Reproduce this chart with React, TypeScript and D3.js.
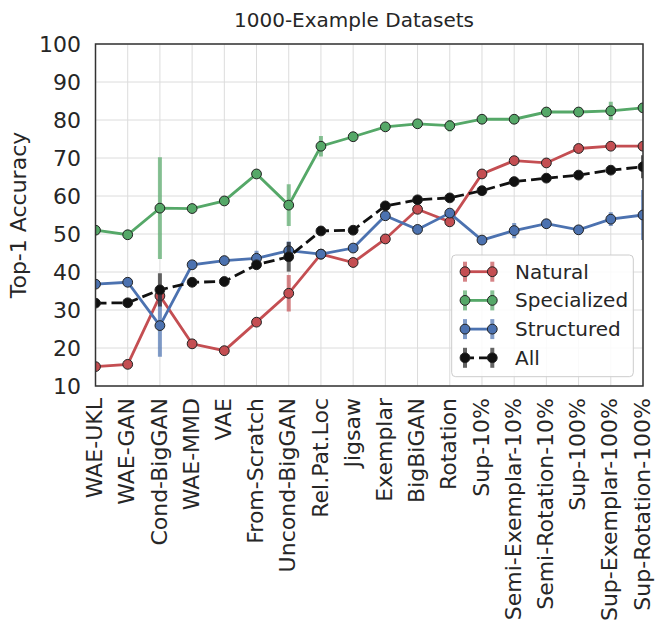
import React from "react";
import * as d3 from "d3";

const width = 664;
const height = 640;
const margin = { top: 44, right: 21, bottom: 254, left: 95.5 };

const categories = [
  "WAE-UKL", "WAE-GAN", "Cond-BigGAN", "WAE-MMD", "VAE", "From-Scratch",
  "Uncond-BigGAN", "Rel.Pat.Loc", "Jigsaw", "Exemplar", "BigBiGAN", "Rotation",
  "Sup-10%", "Semi-Exemplar-10%", "Semi-Rotation-10%", "Sup-100%",
  "Sup-Exemplar-100%", "Sup-Rotation-100%",
];

const natural = [15.1, 15.7, 33.7, 21.1, 19.3, 26.8, 34.4, 44.7, 42.5, 48.7, 56.5, 53.2, 65.8, 69.3, 68.7, 72.5, 73.1, 73.1];
const naturalErr = [0.5, 0.5, 1.0, 0.5, 0.5, 0.5, 4.8, 0.5, 0.5, 0.5, 0.5, 0.5, 0.5, 0.5, 0.5, 0.5, 0.5, 0.5];

const specialized = [51.0, 49.8, 56.8, 56.7, 58.7, 65.8, 57.6, 73.1, 75.6, 78.2, 79.0, 78.5, 80.2, 80.2, 82.1, 82.1, 82.4, 83.2];
const specializedErr = [0.5, 0.5, 13.4, 0.5, 0.5, 0.5, 5.5, 2.7, 1.0, 0.5, 0.5, 1.5, 0.5, 0.5, 0.5, 0.5, 2.4, 0.5];

const structured = [36.8, 37.3, 25.9, 41.9, 43.0, 43.6, 45.6, 44.7, 46.3, 54.8, 51.2, 55.5, 48.4, 50.9, 52.7, 51.1, 53.9, 55.0];
const structuredErr = [0.5, 0.5, 8.2, 0.5, 0.5, 2.0, 2.4, 0.5, 0.5, 0.5, 0.5, 0.5, 0.5, 2.0, 0.5, 1.2, 1.8, 6.6];

const all = [31.8, 31.9, 35.3, 37.3, 37.5, 41.9, 44.0, 50.8, 51.0, 57.4, 59.0, 59.5, 61.4, 63.8, 64.7, 65.5, 66.8, 67.7];
const allErr = [0.5, 0.5, 4.4, 0.5, 0.5, 0.5, 3.9, 0.5, 0.5, 0.5, 0.5, 0.5, 0.5, 0.5, 0.5, 0.5, 0.5, 3.0];

const yTicks = [10, 20, 30, 40, 50, 60, 70, 80, 90, 100];

const series = [
  { name: "Natural", values: natural, err: naturalErr, color: "#C44E52", bar: "#C44E52", dash: "" },
  { name: "Specialized", values: specialized, err: specializedErr, color: "#55A868", bar: "#55A868", dash: "" },
  { name: "Structured", values: structured, err: structuredErr, color: "#4C72B0", bar: "#4C72B0", dash: "" },
  { name: "All", values: all, err: allErr, color: "#111111", bar: "#222222", dash: "11,5" },
];

const font = "DejaVu Sans, sans-serif";
const textColor = "#262626";

export default function App() {
  const innerW = width - margin.left - margin.right;
  const innerH = height - margin.top - margin.bottom;

  const x = d3.scalePoint<string>().domain(categories).range([0, innerW]);
  const y = d3.scaleLinear().domain([10, 100]).range([innerH, 0]);

  const line = d3
    .line<number>()
    .x((_, i) => x(categories[i]) as number)
    .y((d) => y(d));

  // legend placement
  const lg = { x: 451.7 - margin.left, y: 255 - margin.top, w: 181.6, h: 121.7 };
  const rowY = (i: number) => lg.y + 16.7 + i * 28.7;

  return (
    <svg
      width={width}
      height={height}
      style={{ position: "absolute", left: 0, top: 0, background: "#fff" }}
      fontFamily={font}
    >
      <defs>
        <clipPath id="plot-clip">
          <rect x={0} y={0} width={innerW} height={innerH} />
        </clipPath>
      </defs>

      <text x={354} y={26.5} textAnchor="middle" fontSize={20} fill={textColor}>
        1000-Example Datasets
      </text>

      <g transform={`translate(${margin.left},${margin.top})`}>
        {/* grid */}
        {yTicks.map((t) => (
          <line key={"gy" + t} x1={0} x2={innerW} y1={y(t)} y2={y(t)} stroke="#dcdcdc" strokeWidth={1} />
        ))}
        {categories.map((c) => (
          <line key={"gx" + c} x1={x(c)} x2={x(c)} y1={0} y2={innerH} stroke="#dcdcdc" strokeWidth={1} />
        ))}

        <g clipPath="url(#plot-clip)">
          {series.map((s) => (
            <g key={s.name}>
              {s.values.map((v, i) => (
                <line
                  key={i}
                  x1={x(categories[i])}
                  x2={x(categories[i])}
                  y1={y(v + s.err[i])}
                  y2={y(v - s.err[i])}
                  stroke={s.bar}
                  strokeOpacity={0.7}
                  strokeWidth={4}
                />
              ))}
              <path
                d={line(s.values) ?? ""}
                fill="none"
                stroke={s.color}
                strokeWidth={2.8}
                strokeDasharray={s.dash || undefined}
              />
              {s.values.map((v, i) => (
                <circle
                  key={"m" + i}
                  cx={x(categories[i])}
                  cy={y(v)}
                  r={4.9}
                  fill={s.color}
                  stroke="#222"
                  strokeWidth={1}
                />
              ))}
            </g>
          ))}
        </g>

        {/* frame */}
        <rect x={0} y={0} width={innerW} height={innerH} fill="none" stroke="#333" strokeWidth={1.5} />

        {/* y axis labels */}
        {yTicks.map((t) => (
          <text key={"yt" + t} x={-14.5} y={y(t)} dy="0.35em" textAnchor="end" fontSize={22} fill={textColor}>
            {t}
          </text>
        ))}

        {/* x axis labels */}
        {categories.map((c) => (
          <text
            key={"xt" + c}
            transform={`translate(${x(c)},${innerH + 12}) rotate(-90)`}
            dy="0.3em"
            textAnchor="end"
            fontSize={22}
            fill={textColor}
          >
            {c}
          </text>
        ))}

        {/* legend */}
        <rect x={lg.x} y={lg.y} width={lg.w} height={lg.h} rx={4} fill="#fff" fillOpacity={0.85} stroke="#cccccc" strokeWidth={1} />
        {series.map((s, i) => {
          const cy = rowY(i);
          const x0 = lg.x + 13.3;
          const x1 = lg.x + 40.6;
          return (
            <g key={"lg" + s.name}>
              {[x0, x1].map((hx) => (
                <line key={hx} x1={hx} x2={hx} y1={cy - 10} y2={cy + 10} stroke={s.bar} strokeOpacity={0.7} strokeWidth={4} />
              ))}
              <line x1={x0} x2={x1} y1={cy} y2={cy} stroke={s.color} strokeWidth={2.8} strokeDasharray={s.dash ? "9,5" : undefined} />
              {[x0, x1].map((hx) => (
                <circle key={"c" + hx} cx={hx} cy={cy} r={4.9} fill={s.color} stroke="#222" strokeWidth={1} />
              ))}
              <text x={lg.x + 63.3} y={cy} dy="0.35em" fontSize={20} fill={textColor}>
                {s.name}
              </text>
            </g>
          );
        })}
      </g>

      <text
        transform={`translate(26,${margin.top + innerH / 2}) rotate(-90)`}
        textAnchor="middle"
        fontSize={22}
        fill={textColor}
      >
        Top-1 Accuracy
      </text>
    </svg>
  );
}
